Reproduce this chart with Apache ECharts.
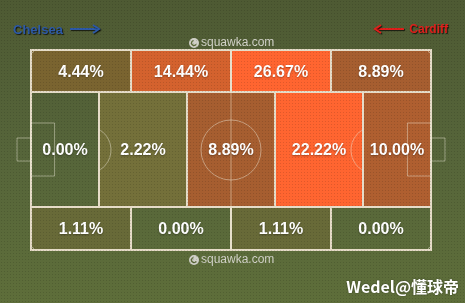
<!DOCTYPE html>
<html><head><meta charset="utf-8">
<script src="https://cdn.jsdelivr.net/npm/echarts@6/dist/echarts.min.js"></script>
<style>html,body{margin:0;padding:0;background:#55643a}#c{width:465px;height:303px}</style>
</head><body><div id="c"></div>
<script>
// zone definitions (pitch units: length 0-100, width 0-100)
const bandEdges = [0, 21.5, 79, 100];            // bottom band, middle band, top band
const wingCols = [0, 25, 50, 75, 100];          // top & bottom bands
const centralCols = [0, 17, 39, 61, 83, 100];   // middle band
const topValues = [4.44, 14.44, 26.67, 8.89];
const middleValues = [0.00, 2.22, 8.89, 22.22, 10.00];
const bottomValues = [1.11, 0.00, 1.11, 0.00];
const teamLeft = 'Chelsea';
const teamRight = 'Cardiff';
const credit = 'Wedel@懂球帝';
const watermark = 'squawka.com';

function buildBand(cols, y0, y1, vals) {
  return vals.map((v, i) => [cols[i], cols[i + 1], y0, y1, v]);
}
const cells = []
  .concat(buildBand(wingCols, bandEdges[2], bandEdges[3], topValues))
  .concat(buildBand(centralCols, bandEdges[1], bandEdges[2], middleValues))
  .concat(buildBand(wingCols, bandEdges[0], bandEdges[1], bottomValues));

const stops = [[0, [80, 94, 50, 0]], [1.11, [104, 106, 56, 1]], [2.22, [116, 112, 58, 1]], [4.44, [122, 100, 48, 1]],
  [8.89, [166, 94, 48, 1]], [14.44, [212, 98, 46, 1]], [21, [255, 101, 48, 1]]];
function colorFor(v) {
  if (v >= stops[stops.length - 1][0]) { const c = stops[stops.length - 1][1]; return `rgba(${c[0]},${c[1]},${c[2]},${c[3]})`; }
  for (let i = 0; i < stops.length - 1; i++) {
    const a = stops[i], b = stops[i + 1];
    if (v >= a[0] && v <= b[0]) {
      const t = (v - a[0]) / (b[0] - a[0]);
      const c = a[1].map((x, k) => x + (b[1][k] - x) * t);
      return `rgba(${Math.round(c[0])},${Math.round(c[1])},${Math.round(c[2])},${c[3].toFixed(3)})`;
    }
  }
  return 'rgba(0,0,0,0)';
}

const chart = echarts.init(document.getElementById('c'), null, { renderer: 'canvas' });

// dot texture
const tex = document.createElement('canvas');
tex.width = 3; tex.height = 3;
const tctx = tex.getContext('2d');
tctx.fillStyle = 'rgba(0,0,0,0.12)';
tctx.fillRect(1, 1, 1, 1);

const lineCol = '#e6dcc8';
const thinCol = 'rgba(240,235,220,0.45)';

function arrow(x0, x1, y, color, dir) {
  const tip = dir > 0 ? x1 : x0;
  return [
    { type: 'line', shape: { x1: x0, y1: y, x2: x1, y2: y }, style: { stroke: color, lineWidth: 2, shadowColor: 'rgba(0,0,0,0.7)', shadowOffsetX: 1, shadowOffsetY: 1, shadowBlur: 1 }, z: 10 },
    { type: 'polyline', shape: { points: [[tip - dir * 6, y - 4], [tip, y], [tip - dir * 6, y + 4]] }, style: { stroke: color, lineWidth: 2, fill: null, shadowColor: 'rgba(0,0,0,0.7)', shadowOffsetX: 1, shadowOffsetY: 1, shadowBlur: 1 }, z: 10 }
  ];
}
function mark(cx, cy) {
  return [
    { type: 'circle', shape: { cx: cx, cy: cy, r: 5 }, style: { fill: '#cfcfc6' }, z: 10 },
    { type: 'arc', shape: { cx: cx, cy: cy, r: 2.5, startAngle: 0.5, endAngle: 4.5 }, style: { stroke: '#5a6838', lineWidth: 1.3, fill: null }, z: 10 },
    { type: 'text', x: cx + 7, y: cy, style: { text: watermark, font: '12px "Liberation Sans", Arial, sans-serif', fill: '#d2d2c8', verticalAlign: 'middle', align: 'left' }, z: 10 }
  ];
}

chart.setOption({
  backgroundColor: { type: 'linear', x: 0, y: 0, x2: 0, y2: 1, colorStops: [
    { offset: 0, color: '#4e5a33' }, { offset: 0.5, color: '#56653a' }, { offset: 1, color: '#5e6e3a' }] },
  animation: false,
  grid: { left: 31, right: 34, top: 50, bottom: 53 },
  xAxis: { type: 'value', min: 0, max: 100, show: false },
  yAxis: { type: 'value', min: 0, max: 100, show: false },
  graphic: [
    { type: 'rect', shape: { x: 0, y: 0, width: 465, height: 303 }, style: { fill: { image: tex, repeat: 'repeat' } }, silent: true, z: 50 },
    { type: 'text', x: 13, y: 30, style: { text: teamLeft, font: 'bold 13px "Liberation Sans", Arial, sans-serif', fill: '#2d5aa8', verticalAlign: 'middle', textShadowColor: 'rgba(0,0,0,0.75)', textShadowOffsetX: 1, textShadowOffsetY: 1, textShadowBlur: 1 }, z: 10 },
    ...arrow(70, 99, 29, '#2d5aa8', 1),
    { type: 'text', x: 448, y: 30, style: { text: teamRight, font: 'bold 12px "Liberation Sans", Arial, sans-serif', fill: '#e0201c', align: 'right', verticalAlign: 'middle', textShadowColor: 'rgba(0,0,0,0.75)', textShadowOffsetX: 1, textShadowOffsetY: 1, textShadowBlur: 1 }, z: 10 },
    ...arrow(375, 404, 29, '#e0201c', -1),
    ...mark(194, 43),
    ...mark(194, 260),
    { type: 'text', x: 459, y: 287, style: { text: credit, font: 'bold 16px "Noto Sans CJK SC", "Liberation Sans", sans-serif', fill: '#ffffff', align: 'right', verticalAlign: 'middle', textShadowColor: 'rgba(0,0,0,0.4)', textShadowBlur: 2 }, z: 60 }
  ],
  series: [
    {
      type: 'custom', z: 2, clip: false,
      data: cells,
      renderItem: function (params, api) {
        const p0 = api.coord([api.value(0), api.value(3)]);
        const p1 = api.coord([api.value(1), api.value(2)]);
        return { type: 'rect', shape: { x: p0[0], y: p0[1], width: p1[0] - p0[0], height: p1[1] - p0[1] },
          style: { fill: colorFor(api.value(4)), stroke: lineCol, lineWidth: 2 } };
      }
    },
    {
      type: 'custom', z: 3, clip: false, silent: true,
      data: [[0]],
      renderItem: function (params, api) {
        const c = (x, y) => api.coord([x, y]);
        const sx = c(1, 0)[0] - c(0, 0)[0];
        const ch = [];
        const thin = { stroke: thinCol, lineWidth: 1, fill: null };
        const mid = c(50, 50);
        ch.push({ type: 'line', shape: { x1: mid[0], y1: c(50, 100)[1], x2: mid[0], y2: c(50, 0)[1] }, style: thin });
        ch.push({ type: 'circle', shape: { cx: mid[0], cy: mid[1], r: 7.5 * sx }, style: thin });
        // penalty boxes and goals
        [[0, 5.9, -3.5], [100, 94.1, 103.5]].forEach(([g, box, goal]) => {
          const a = c(Math.min(g, box), 63.5), b = c(Math.max(g, box), 37);
          ch.push({ type: 'rect', shape: { x: a[0], y: a[1], width: b[0] - a[0], height: b[1] - a[1] }, style: thin });
          const ga = c(Math.min(g, goal), 56), gb = c(Math.max(g, goal), 44.5);
          ch.push({ type: 'rect', shape: { x: ga[0], y: ga[1], width: gb[0] - ga[0], height: gb[1] - ga[1] }, style: thin });
        });
        // penalty arcs
        const r = 5.9 * sx;
        const lc = c(14.1, 50), rc = c(85.9, 50);
        const ang = Math.acos((c(17, 50)[0] - lc[0]) / r);
        ch.push({ type: 'arc', shape: { cx: lc[0], cy: lc[1], r: r, startAngle: -ang, endAngle: ang }, style: thin });
        ch.push({ type: 'arc', shape: { cx: rc[0], cy: rc[1], r: r, startAngle: Math.PI - ang, endAngle: Math.PI + ang }, style: thin });
        // corner arcs
        const tl = c(0, 100), br = c(100, 0);
        const cr = 3;
        ch.push({ type: 'arc', shape: { cx: tl[0], cy: tl[1], r: cr, startAngle: 0, endAngle: Math.PI / 2 }, style: thin });
        ch.push({ type: 'arc', shape: { cx: br[0], cy: tl[1], r: cr, startAngle: Math.PI / 2, endAngle: Math.PI }, style: thin });
        ch.push({ type: 'arc', shape: { cx: tl[0], cy: br[1], r: cr, startAngle: -Math.PI / 2, endAngle: 0 }, style: thin });
        ch.push({ type: 'arc', shape: { cx: br[0], cy: br[1], r: cr, startAngle: Math.PI, endAngle: 1.5 * Math.PI }, style: thin });
        return { type: 'group', children: ch };
      }
    },
    {
      type: 'custom', z: 4, clip: false, silent: true,
      data: cells,
      renderItem: function (params, api) {
        const p = api.coord([(api.value(0) + api.value(1)) / 2, (api.value(2) + api.value(3)) / 2]);
        return { type: 'text', x: p[0], y: p[1] + 1.5,
          style: { text: api.value(4).toFixed(2) + '%', font: 'bold 16px "Liberation Sans", Arial, sans-serif', fill: '#ffffff', align: 'center', verticalAlign: 'middle',
            textShadowColor: 'rgba(0,0,0,0.35)', textShadowBlur: 2, textShadowOffsetY: 1 } };
      }
    }
  ]
});
</script></body></html>
